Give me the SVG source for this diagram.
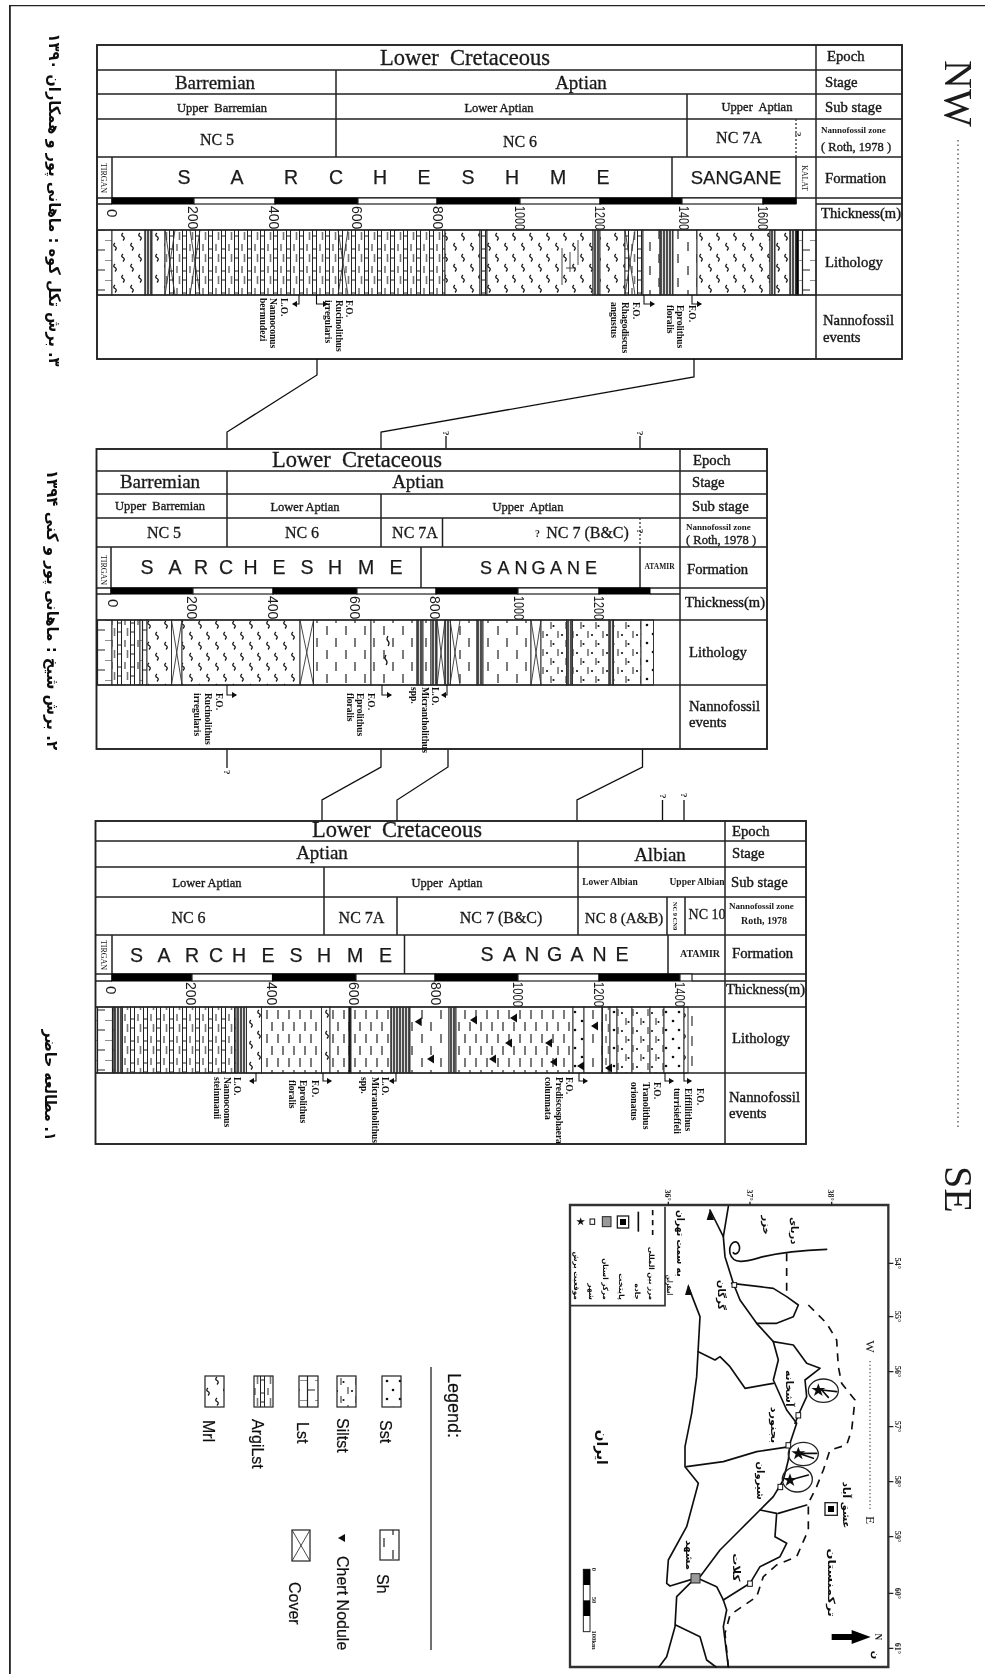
<svg xmlns="http://www.w3.org/2000/svg" xmlns:xlink="http://www.w3.org/1999/xlink" width="985" height="1674" viewBox="0 0 985 1674">
<style>
.t{font-family:"Liberation Serif","Times New Roman",serif;fill:#1a1a1a}
.s{font-family:"Liberation Sans",Arial,sans-serif;fill:#1a1a1a}
.p{font-family:"DejaVu Sans",sans-serif;fill:#111;font-weight:700}
.m{text-anchor:middle}
.e{font-family:"Liberation Serif",serif;font-weight:700;font-size:9.5px;fill:#111}
.h1{font-size:22.5px;stroke:#1a1a1a;stroke-width:.3}.h2{font-size:19px;stroke:#1a1a1a;stroke-width:.3}.h3{font-size:12.5px;stroke:#1a1a1a;stroke-width:.35}.h4{font-size:16px;stroke:#1a1a1a;stroke-width:.3}
.r{font-size:14.7px;stroke:#1a1a1a;stroke-width:.4}.rs{font-size:9px;font-weight:700}.rr{font-size:12.5px;stroke:#1a1a1a;stroke-width:.35}
.f{font-size:19.5px;text-anchor:middle;stroke:#1a1a1a;stroke-width:.25}
.n{font-size:14px}
.tn{font-size:8px;text-anchor:middle}
.l{fill:none;stroke:#222;stroke-width:1.5}
.b{fill:none;stroke:#222;stroke-width:1.9}
.st{stroke:#333;stroke-width:1}
.k{fill:#000;stroke:#000}
.w{fill:#fff;stroke:#222;stroke-width:1.2}
.c{fill:none;stroke:#111;stroke-width:1.3}
.ev{fill:none;stroke:#111;stroke-width:1.1;marker-end:url(#ah)}
.x{fill:none;stroke:#333;stroke-width:.9}
.mp{fill:none;stroke:#111;stroke-width:5;stroke-linejoin:round;stroke-linecap:round}
.md{fill:none;stroke:#111;stroke-width:5;stroke-dasharray:24 20}
.mq{fill:#fff;stroke:#111;stroke-width:3}
.ml{font-family:"DejaVu Sans",sans-serif;font-size:30px;font-weight:700;fill:#111;text-anchor:middle}
.mt{font-family:"Liberation Serif",serif;font-size:24px;font-weight:700;fill:#222;text-anchor:middle}
.lg{font-family:"Liberation Sans",Arial,sans-serif;font-size:16px;fill:#111;stroke:#111;stroke-width:.2}
</style>
<defs>
<filter id="soft" x="0" y="0" width="100%" height="100%"><feGaussianBlur stdDeviation="0.4"/></filter>
<marker id="ah" markerWidth="6" markerHeight="6" refX="4" refY="3" orient="auto"><path d="M0,0 L5,3 L0,6Z" fill="#111"/></marker>
<pattern id="lst" width="15" height="20" patternUnits="userSpaceOnUse"><rect width="15" height="20" fill="#fff"/><path d="M7.5,0V20M0,0H7.5M7.5,10H15" stroke="#222" stroke-width="1.2" fill="none"/></pattern>
<pattern id="mrl" width="17" height="21" patternUnits="userSpaceOnUse"><rect width="17" height="21" fill="#fff"/><path d="M4,2q-2.5,2 0,3.5t0,4M13,12q-2.5,2 0,3.5t0,4" stroke="#111" stroke-width="1.3" fill="none"/></pattern>
<pattern id="sh" width="19" height="24" patternUnits="userSpaceOnUse"><rect width="19" height="24" fill="#fff"/><path d="M4,2V11M13,14V23" stroke="#222" stroke-width="1.2" fill="none"/></pattern>
<pattern id="arg" width="13" height="22" patternUnits="userSpaceOnUse"><rect width="13" height="22" fill="#fff"/><path d="M.5,0V22M4.5,0V22M0,7H4.5M0,16H4.5" stroke="#222" stroke-width="1" fill="none"/><path d="M8,2V9M10.5,12V20" stroke="#777" stroke-width="1.6" fill="none"/></pattern>
<pattern id="slt" width="15" height="18" patternUnits="userSpaceOnUse"><rect width="15" height="18" fill="#fff"/><path d="M3,1V8M11,10V17" stroke="#333" stroke-width="1.1" fill="none"/><circle cx="7" cy="5" r="1.1" fill="#111"/><circle cx="13.5" cy="14" r="1.1" fill="#111"/></pattern>
<pattern id="sst" width="13" height="18" patternUnits="userSpaceOnUse"><rect width="13" height="18" fill="#fff"/><circle cx="3" cy="4" r="1.3" fill="#111"/><circle cx="10" cy="13" r="1.3" fill="#111"/></pattern>
<pattern id="dn" width="3" height="10" patternUnits="userSpaceOnUse"><rect width="3" height="10" fill="#ddd"/><path d="M1,0V10" stroke="#111" stroke-width="1.4"/></pattern>
<pattern id="shc" width="11" height="24" patternUnits="userSpaceOnUse"><rect width="11" height="24" fill="#fff"/><path d="M3,2V11M8,14V23" stroke="#222" stroke-width="1.2" fill="none"/></pattern>
<polygon id="chert" points="-4,0 3,-4.5 3,4.5" fill="#111"/>
</defs>
<rect width="985" height="1674" fill="#fff"/>
<g filter="url(#soft)">
<g id="frame"><path d="M9.5,1674V5H985" fill="none" stroke="#222" stroke-width="2.6"/></g>

<g id="captions">
<text class="p m" font-size="16" textLength="333" lengthAdjust="spacingAndGlyphs" x="49" y="200" transform="rotate(90 49 200)" direction="rtl">۳. برش تکل کوه : ماهانی پور و همکاران ۱۳۹۰</text>
<text class="p m" font-size="16" textLength="280" lengthAdjust="spacingAndGlyphs" x="47" y="610" transform="rotate(90 47 610)" direction="rtl">۲. برش شیخ : ماهانی پور و کنی ۱۳۹۴</text>
<text class="p m" font-size="16" textLength="111" lengthAdjust="spacingAndGlyphs" x="45" y="1085" transform="rotate(90 45 1085)" direction="rtl">۱. مطالعه حاضر</text>
</g>

<g id="section-line">
<text class="t" font-size="40" x="945" y="60" transform="rotate(90 945 60)">NW</text>
<path d="M958,140V1127" stroke="#666" stroke-width="1.5" stroke-dasharray="1.5 3" fill="none"/>
<text class="t" font-size="40" x="945" y="1166" transform="rotate(90 945 1166)">SE</text>
</g>

<g id="chart-1">
<g class="st">
<rect x="97" y="230" width="15" height="65" fill="url(#lst)"/><rect x="112" y="230" width="33" height="65" fill="url(#mrl)"/><rect x="145" y="230" width="7" height="65" fill="url(#dn)"/><rect x="152" y="230" width="13" height="65" fill="url(#mrl)"/><rect x="165" y="230" width="280" height="65" fill="url(#arg)"/><rect x="445" y="230" width="35" height="65" fill="url(#mrl)"/><rect x="480" y="230" width="7" height="65" fill="url(#arg)"/><rect x="487" y="230" width="106" height="65" fill="url(#mrl)"/><rect x="593" y="230" width="7" height="65" fill="url(#dn)"/><rect x="600" y="230" width="25" height="65" fill="url(#mrl)"/><rect x="625" y="230" width="18" height="65" fill="url(#arg)"/><rect x="643" y="230" width="17" height="65" fill="url(#sh)"/><rect x="660" y="230" width="13" height="65" fill="url(#dn)"/><rect x="673" y="230" width="24" height="65" fill="url(#sh)"/><rect x="697" y="230" width="73" height="65" fill="url(#mrl)"/><rect x="770" y="230" width="5" height="65" fill="url(#dn)"/><rect x="775" y="230" width="15" height="65" fill="url(#mrl)"/><rect x="790" y="230" width="6" height="65" fill="url(#dn)"/><rect x="796" y="230" width="2.5" height="65" fill="#000"/><rect x="798.5" y="230" width="17.5" height="65" fill="url(#lst)"/>
</g>
<path class="x" d="M165,230L175,295M175,230L165,295M190,230L200,295M200,230L190,295M338,230L348,295M348,230L338,295M625,230L635,295M635,230L625,295"/>
<path class="x" d="M562,248V285M570,252V272M578,240V265M566,268H576"/>
<rect class="b" x="97" y="45" width="805" height="314"/>
<path class="l" d="M97,70H902M97,94H902M97,119H902M97,157H902M97,198H902M97,204H112M816,204H902M97,230H902M97,295H902M816,45V359M336,70V157M687,94V157M112,157V204M672,157V198M796,157V204"/>
<path d="M796,119V157" stroke="#333" stroke-width="1.3" stroke-dasharray="2 2"/>
<rect class="k" x="112" y="198" width="82" height="6"/><rect class="w" x="194" y="198" width="81" height="6"/><rect class="k" x="275" y="198" width="83" height="6"/><rect class="w" x="358" y="198" width="79" height="6"/><rect class="k" x="437" y="198" width="83" height="6"/><rect class="w" x="520" y="198" width="80" height="6"/><rect class="k" x="600" y="198" width="82" height="6"/><rect class="w" x="682" y="198" width="81" height="6"/><rect class="k" x="763" y="198" width="33" height="6"/>
<text class="t m h1" x="465" y="65">Lower&#160; Cretaceous</text>
<text class="t m h2" x="215" y="89">Barremian</text><text class="t m h2" x="581" y="89">Aptian</text>
<text class="t m h3" x="222" y="112">Upper&#160; Barremian</text><text class="t m h3" x="499" y="112">Lower Aptian</text><text class="t m h3" x="757" y="111">Upper&#160; Aptian</text>
<text class="t m h4" x="217" y="145">NC 5</text><text class="t m h4" x="520" y="147">NC 6</text><text class="t m h4" x="739" y="143">NC 7A</text>
<text class="t" font-weight="700" font-size="9" x="795" y="132" transform="rotate(90 795 132)">?</text>
<text class="t r" x="827" y="61">Epoch</text><text class="t r" x="825" y="87">Stage</text><text class="t r" x="825" y="112">Sub stage</text>
<text class="t rs" x="821" y="133">Nannofossil zone</text><text class="t rr" x="821" y="151">( Roth, 1978 )</text>
<text class="t r" x="825" y="183">Formation</text><text class="t r" x="821" y="218" textLength="80" lengthAdjust="spacingAndGlyphs">Thickness(m)</text>
<text class="t r" x="825" y="267">Lithology</text><text class="t r" x="823" y="325">Nannofossil</text><text class="t r" x="823" y="342">events</text>
<text class="s f" x="184 237 291 336 380 424 468 512 558 603" y="184">SARCHESHME</text>
<text class="s m" font-size="18.5" stroke="#1a1a1a" stroke-width=".25" x="736" y="184">SANGANE</text>
<text class="t tn" x="101" y="178" transform="rotate(90 101 178)">TIRGAN</text>
<text class="t tn" x="802" y="178" transform="rotate(90 802 178)">KALAT</text>
<g class="s n">
<text font-size="15" x="107" y="209" transform="rotate(90 107 209)">0</text>
<text x="188" y="206" transform="rotate(90 188 206)">200</text><text x="269" y="206" transform="rotate(90 269 206)">400</text><text x="352" y="206" transform="rotate(90 352 206)">600</text><text x="433" y="206" transform="rotate(90 433 206)">800</text>
<text x="515" y="206" textLength="24" lengthAdjust="spacingAndGlyphs" transform="rotate(90 515 206)">1000</text><text x="595" y="206" textLength="24" lengthAdjust="spacingAndGlyphs" transform="rotate(90 595 206)">1200</text><text x="679" y="206" textLength="24" lengthAdjust="spacingAndGlyphs" transform="rotate(90 679 206)">1400</text><text x="758" y="206" textLength="24" lengthAdjust="spacingAndGlyphs" transform="rotate(90 758 206)">1600</text>
</g>
<path class="ev" d="M299,295V304H293"/><path class="ev" d="M316.5,295V304H327"/><path class="ev" d="M644,295V304H654"/><path class="ev" d="M692,295V304H701"/>
<g class="e">
<text x="281" y="298" transform="rotate(90 281 298)">L.O.</text><text x="270" y="298" transform="rotate(90 270 298)">Nannoconus</text><text x="260" y="298" transform="rotate(90 260 298)">bermudezi</text>
<text x="346" y="300" transform="rotate(90 346 300)">F.O.</text><text x="336" y="300" transform="rotate(90 336 300)">Rucinolithus</text><text x="325" y="300" transform="rotate(90 325 300)">irregularis</text>
<text x="633" y="302" transform="rotate(90 633 302)">F.O.</text><text x="622" y="302" transform="rotate(90 622 302)">Rhagodiscus</text><text x="611" y="302" transform="rotate(90 611 302)">angustus</text>
<text x="689" y="305" transform="rotate(90 689 305)">F.O.</text><text x="677" y="305" transform="rotate(90 677 305)">Eprolithus</text><text x="667" y="305" transform="rotate(90 667 305)">floralis</text>
</g>
</g>

<g id="connectors">
<path class="c" d="M317,359V375L227,432V449"/>
<path class="c" d="M694,359V377L381,432V449"/>
<path class="c" d="M446,436V449M640,436V449M227,749V768"/>
<path class="c" d="M381,749V767L322,800V821"/>
<path class="c" d="M448,749V767L397,800V821"/>
<path class="c" d="M642.5,749V767L577,800V821"/>
<path class="c" d="M662.5,800V821M684,800V821"/>
<g class="t" font-size="9" font-weight="700">
<text x="443" y="431" transform="rotate(90 443 431)">?</text><text x="637" y="431" transform="rotate(90 637 431)">?</text>
<text x="224" y="770" transform="rotate(90 224 770)">?</text><text x="660" y="794" transform="rotate(90 660 794)">?</text><text x="681" y="793" transform="rotate(90 681 793)">?</text>
</g>
</g>

<g id="chart-2">
<g class="st">
<rect x="96.5" y="620" width="15.5" height="65" fill="url(#lst)"/><rect x="112" y="620" width="28" height="65" fill="url(#arg)"/><rect x="140" y="620" width="7" height="65" fill="url(#lst)"/><rect x="147" y="620" width="24.5" height="65" fill="url(#mrl)"/><rect x="171.5" y="620" width="10.5" height="65" fill="#fff"/><rect x="182" y="620" width="118" height="65" fill="url(#mrl)"/><rect x="300" y="620" width="13.5" height="65" fill="#fff"/><rect x="313.5" y="620" width="57.5" height="65" fill="url(#sh)"/><rect x="371" y="620" width="46" height="65" fill="url(#sh)"/><rect x="417" y="620" width="6" height="65" fill="url(#dn)"/><rect x="423" y="620" width="8" height="65" fill="url(#shc)"/><rect x="431" y="620" width="6" height="65" fill="url(#dn)"/><rect x="437" y="620" width="8" height="65" fill="#fff"/><rect x="445" y="620" width="5.5" height="65" fill="url(#dn)"/><rect x="450.5" y="620" width="26.5" height="65" fill="url(#sh)"/><rect x="477" y="620" width="6" height="65" fill="url(#dn)"/><rect x="483" y="620" width="48" height="65" fill="url(#sh)"/><rect x="531" y="620" width="10" height="65" fill="#fff"/><rect x="541" y="620" width="25.5" height="65" fill="url(#slt)"/><rect x="566.5" y="620" width="6" height="65" fill="url(#dn)"/><rect x="572.5" y="620" width="36.5" height="65" fill="url(#slt)"/><rect x="609" y="620" width="4.5" height="65" fill="url(#dn)"/><rect x="613.5" y="620" width="27.5" height="65" fill="url(#slt)"/><rect x="641" y="620" width="12.5" height="65" fill="url(#sst)"/>
</g>
<path class="x" d="M171.5,620L182,685M182,620L171.5,685M300,620L313.5,685M313.5,620L300,685M531,620L541,685M541,620L531,685M450,620L460,685M460,620L450,685M437,620L445,685M445,620L437,685"/>
<path class="c" d="M388,636q-2,3 0,5t0,5M386,655q-2,3 0,5t0,5"/>
<rect class="b" x="96.5" y="449" width="670.5" height="300"/>
<path class="l" d="M96.5,471H767M96.5,494H767M96.5,518H767M96.5,547H767M96.5,588H767M96.5,594H111M650,594H680M96.5,620H767M96.5,685H767M680,449V749M227,471V547M381,494V547M442.5,518V547M111,547V594M421,547V588M640,547V588"/>
<path d="M640,518V547" stroke="#333" stroke-width="1.3" stroke-dasharray="2 2"/>
<rect class="k" x="111" y="588" width="82" height="6"/><rect class="w" x="193" y="588" width="80" height="6"/><rect class="k" x="273" y="588" width="84" height="6"/><rect class="w" x="357" y="588" width="79" height="6"/><rect class="k" x="436" y="588" width="82" height="6"/><rect class="w" x="518" y="588" width="81" height="6"/><rect class="k" x="599" y="588" width="51" height="6"/>
<text class="t m h1" x="357" y="467">Lower&#160; Cretaceous</text>
<text class="t m h2" x="160" y="488">Barremian</text><text class="t m h2" x="418" y="488">Aptian</text>
<text class="t m h3" x="160" y="510">Upper&#160; Barremian</text><text class="t m h3" x="305" y="511">Lower Aptian</text><text class="t m h3" x="528" y="511">Upper&#160; Aptian</text>
<text class="t m h4" x="164" y="538">NC 5</text><text class="t m h4" x="302" y="538">NC 6</text><text class="t m h4" x="415" y="538">NC 7A</text><text class="t m" font-size="10" font-weight="700" x="537.5" y="537">?</text><text class="t m h4" x="587.5" y="538">NC 7 (B&amp;C)</text>
<text class="t" font-size="9" font-weight="700" x="637" y="529" transform="rotate(90 637 529)">?</text>
<text class="t r" x="693" y="465">Epoch</text><text class="t r" x="692" y="487">Stage</text><text class="t r" x="692" y="511">Sub stage</text>
<text class="t rs" x="686" y="530" font-size="8.5">Nannofossil zone</text><text class="t rr" x="686" y="544">( Roth, 1978 )</text>
<text class="t r" x="687" y="574">Formation</text><text class="t r" x="685" y="607" textLength="80" lengthAdjust="spacingAndGlyphs">Thickness(m)</text>
<text class="t r" x="689" y="657">Lithology</text><text class="t r" x="689" y="711">Nannofossil</text><text class="t r" x="689" y="727">events</text>
<text class="s f" x="147 175 201 226 250.5 279 307 335 366 396" y="574">SARCHESHME</text>
<text class="s f" x="486 503.5 521 538.5 556 573.5 591" y="574" style="font-size:18px">SANGANE</text>
<text class="t m" font-size="7.5" font-weight="700" x="659.5" y="569">ATAMIR</text>
<text class="t tn" x="101" y="570" transform="rotate(90 101 570)">TIRGAN</text>
<g class="s n">
<text font-size="15" x="108" y="599" transform="rotate(90 108 599)">0</text>
<text x="187" y="596" transform="rotate(90 187 596)">200</text><text x="267.5" y="596" transform="rotate(90 267.5 596)">400</text><text x="350" y="596" transform="rotate(90 350 596)">600</text><text x="430" y="596" transform="rotate(90 430 596)">800</text>
<text x="514" y="596" textLength="24" lengthAdjust="spacingAndGlyphs" transform="rotate(90 514 596)">1000</text><text x="594" y="596" textLength="24" lengthAdjust="spacingAndGlyphs" transform="rotate(90 594 596)">1200</text>
</g>
<path class="ev" d="M227,685V695H236"/><path class="ev" d="M382,685V695H391"/><path class="ev" d="M447,685V695H442"/>
<g class="e">
<text x="216" y="693" transform="rotate(90 216 693)">F.O.</text><text x="205" y="693" transform="rotate(90 205 693)">Rucinolithus</text><text x="194" y="693" transform="rotate(90 194 693)">irregularis</text>
<text x="368" y="693" transform="rotate(90 368 693)">F.O.</text><text x="357" y="693" transform="rotate(90 357 693)">Eprolithus</text><text x="347" y="693" transform="rotate(90 347 693)">floralis</text>
<text x="432" y="687" transform="rotate(90 432 687)">L.O.</text><text x="422" y="687" transform="rotate(90 422 687)">Micrantholithus</text><text x="411" y="687" transform="rotate(90 411 687)">spp.</text>
</g>
</g>

<g id="chart-3">
<g class="st">
<rect x="95.5" y="1007" width="18.5" height="66" fill="url(#lst)"/><rect x="114" y="1007" width="8.5" height="66" fill="url(#dn)"/><rect x="122.5" y="1007" width="73" height="66" fill="url(#arg)"/><rect x="195.5" y="1007" width="40.5" height="66" fill="url(#arg)"/><rect x="236" y="1007" width="10.5" height="66" fill="url(#dn)"/><rect x="246.5" y="1007" width="15" height="66" fill="url(#mrl)"/><rect x="261.5" y="1007" width="60" height="66" fill="url(#shc)"/><rect x="321.5" y="1007" width="8.5" height="66" fill="url(#mrl)"/><rect x="330" y="1007" width="19" height="66" fill="url(#shc)"/><rect x="349" y="1007" width="2" height="66" fill="#000"/><rect x="351" y="1007" width="40" height="66" fill="url(#shc)"/><rect x="391" y="1007" width="19" height="66" fill="url(#dn)"/><rect x="410" y="1007" width="39" height="66" fill="url(#sh)"/><rect x="449" y="1007" width="7" height="66" fill="url(#dn)"/><rect x="456" y="1007" width="117" height="66" fill="url(#shc)"/><rect x="573" y="1007" width="11" height="66" fill="url(#sst)"/><rect x="584" y="1007" width="18" height="66" fill="url(#sh)"/><rect x="602" y="1007" width="8" height="66" fill="url(#arg)"/><rect x="610" y="1007" width="7" height="66" fill="url(#sst)"/><rect x="617" y="1007" width="15" height="66" fill="url(#slt)"/><rect x="632" y="1007" width="18" height="66" fill="url(#slt)"/><rect x="650" y="1007" width="14" height="66" fill="url(#slt)"/><rect x="664" y="1007" width="20" height="66" fill="url(#sst)"/><rect x="684" y="1007" width="4" height="66" fill="url(#mrl)"/>
</g>
<path d="M692,1016V1026M692,1036V1046M692,1056V1066" stroke="#333" stroke-width="1.2"/>
<g><use href="#chert" x="418.7" y="1021.7"/><use href="#chert" x="474" y="1020"/><use href="#chert" x="514" y="1018"/><use href="#chert" x="509" y="1043"/><use href="#chert" x="549" y="1043"/><use href="#chert" x="493" y="1059"/><use href="#chert" x="554" y="1062"/><use href="#chert" x="431" y="1059"/><use href="#chert" x="595" y="1026"/><use href="#chert" x="581" y="1066"/><use href="#chert" x="609" y="1068"/></g>
<rect class="b" x="95.5" y="821" width="710.5" height="323"/>
<path class="l" d="M95.5,841H806M95.5,867H806M95.5,897H806M95.5,935H806M95.5,974H806M95.5,981H112M692,981H806M95.5,1007H806M95.5,1073H806M725,821V1144M578,841V935M324,867V935M397,897V935M667,897V935M685,897V935M112,935V981M404.5,935V974M668,935V974"/>
<rect class="k" x="112" y="974" width="80" height="7"/><rect class="w" x="192" y="974" width="80.5" height="7"/><rect class="k" x="272.5" y="974" width="83.5" height="7"/><rect class="w" x="356" y="974" width="79" height="7"/><rect class="k" x="435" y="974" width="83" height="7"/><rect class="w" x="518" y="974" width="81" height="7"/><rect class="k" x="599" y="974" width="81" height="7"/><rect class="w" x="680" y="974" width="12" height="7"/>
<text class="t m h1" x="397" y="837">Lower&#160; Cretaceous</text>
<text class="t m h2" x="322" y="859">Aptian</text><text class="t m h2" x="660" y="861">Albian</text>
<text class="t m h3" x="207" y="887">Lower Aptian</text><text class="t m h3" x="447" y="887">Upper&#160; Aptian</text>
<text class="t m" font-size="9.5" font-weight="700" x="610" y="885">Lower Albian</text><text class="t m" font-size="9.5" font-weight="700" x="697" y="885">Upper Albian</text>
<text class="t m h4" x="188.5" y="923">NC 6</text><text class="t m h4" x="361.5" y="923">NC 7A</text><text class="t m h4" x="501" y="923">NC 7 (B&amp;C)</text><text class="t m h4" style="font-size:15px" x="624" y="923">NC 8 (A&amp;B)</text>
<text class="t m" font-size="6.5" font-weight="700" x="673" y="916" transform="rotate(90 673 916)">NC 9 CN9</text>
<text class="t m h4" style="font-size:14px" x="707" y="919">NC 10</text>
<text class="t r" x="732" y="836">Epoch</text><text class="t r" x="732" y="858">Stage</text><text class="t r" x="731" y="887">Sub stage</text>
<text class="t rs" x="729" y="909" font-size="8.5">Nannofossil zone</text><text class="t m" font-size="10" font-weight="700" x="764" y="924">Roth, 1978</text>
<text class="t r" x="732" y="958">Formation</text><text class="t r" x="726" y="994" textLength="79" lengthAdjust="spacingAndGlyphs">Thickness(m)</text>
<text class="t r" x="732" y="1043">Lithology</text><text class="t r" x="729" y="1102">Nannofossil</text><text class="t r" x="729" y="1118">events</text>
<text class="s f" x="136.5 164 192 216 239 268 296 324 355 385.5" y="962">SARCHESHME</text>
<text class="s f" x="487 509.5 532 554.5 577 599.5 622" y="961">SANGANE</text>
<text class="t m" font-size="10" font-weight="700" x="700" y="957">ATAMIR</text>
<text class="t tn" x="101" y="955" transform="rotate(90 101 955)">TIRGAN</text>
<g class="s n">
<text font-size="15" x="106" y="986" transform="rotate(90 106 986)">0</text>
<text x="186" y="982" transform="rotate(90 186 982)">200</text><text x="267" y="982" transform="rotate(90 267 982)">400</text><text x="349" y="982" transform="rotate(90 349 982)">600</text><text x="431" y="982" transform="rotate(90 431 982)">800</text>
<text x="512.5" y="982" textLength="25" lengthAdjust="spacingAndGlyphs" transform="rotate(90 512.5 982)">1000</text><text x="594" y="982" textLength="25" lengthAdjust="spacingAndGlyphs" transform="rotate(90 594 982)">1200</text><text x="675" y="982" textLength="25" lengthAdjust="spacingAndGlyphs" transform="rotate(90 675 982)">1400</text>
</g>
<path class="ev" d="M256,1073V1081H250"/><path class="ev" d="M323,1073V1081H331"/><path class="ev" d="M396,1073V1081H390"/><path class="ev" d="M579,1073V1081H587"/><path class="ev" d="M665,1073V1081H673"/><path class="ev" d="M684,1073V1081H691"/>
<g class="e">
<text x="234" y="1077" transform="rotate(90 234 1077)">L.O.</text><text x="224" y="1077" transform="rotate(90 224 1077)">Nannoconus</text><text x="214" y="1077" transform="rotate(90 214 1077)">steinmanii</text>
<text x="312" y="1080" transform="rotate(90 312 1080)">F.O.</text><text x="300" y="1080" transform="rotate(90 300 1080)">Eprolithus</text><text x="289" y="1080" transform="rotate(90 289 1080)">floralis</text>
<text x="382" y="1077" transform="rotate(90 382 1077)">L.O.</text><text x="372" y="1077" transform="rotate(90 372 1077)">Micrantholithus</text><text x="361" y="1077" transform="rotate(90 361 1077)">spp.</text>
<text x="566" y="1077" transform="rotate(90 566 1077)">F.O.</text><text x="556" y="1077" transform="rotate(90 556 1077)">Prediscosphaera</text><text x="545" y="1077" transform="rotate(90 545 1077)">columnata</text>
<text x="654" y="1082" transform="rotate(90 654 1082)">F.O.</text><text x="643" y="1082" transform="rotate(90 643 1082)">Tranolithus</text><text x="631" y="1082" transform="rotate(90 631 1082)">orionatus</text>
<text x="697" y="1088" transform="rotate(90 697 1088)">F.O.</text><text x="685" y="1088" transform="rotate(90 685 1088)">Eiffillithus</text><text x="674" y="1088" transform="rotate(90 674 1088)">turrisieffeli</text>
</g>
</g>

<g id="legend">
<text class="lg" style="font-size:18px" x="448" y="1373" transform="rotate(90 448 1373)">Legend:</text>
<path d="M431,1367V1650" stroke="#333" stroke-width="1.4"/>
<rect class="w" x="382" y="1376" width="19" height="31" style="fill:url(#sst)"/><text class="lg" x="380" y="1420" transform="rotate(90 380 1420)">Sst</text>
<rect class="w" x="337" y="1376" width="19" height="31" style="fill:url(#slt)"/><text class="lg" x="336.5" y="1418" transform="rotate(90 336.5 1418)">Siltst</text>
<rect class="w" x="299" y="1376" width="19" height="31" style="fill:url(#lst)"/><text class="lg" x="297" y="1422" transform="rotate(90 297 1422)">Lst</text>
<rect class="w" x="254" y="1376" width="19" height="31" style="fill:url(#arg)"/><text class="lg" x="251.5" y="1419" transform="rotate(90 251.5 1419)">ArgiLst</text>
<rect class="w" x="205" y="1376" width="19" height="31" style="fill:url(#mrl)"/><text class="lg" x="203" y="1420" transform="rotate(90 203 1420)">Mrl</text>
<rect class="w" x="380" y="1530" width="19" height="30" style="fill:url(#sh)"/><text class="lg" x="377" y="1574" transform="rotate(90 377 1574)">Sh</text>
<polygon points="338,1538 345,1534 345,1542" fill="#111"/><text class="lg" x="337" y="1556" transform="rotate(90 337 1556)">Chert Nodule</text>
<rect class="w" x="292" y="1530" width="18" height="31"/><path class="x" d="M292,1530L310,1561M310,1530L292,1561"/><text class="lg" x="289" y="1582" transform="rotate(90 289 1582)">Cover</text>
</g>

<g id="map" transform="translate(560 1160) scale(.33333)">
<path d="M30,135H985V1521H30Z" fill="#fff" stroke="#333" stroke-width="7"/>
<path d="M30,437H315V140" fill="none" stroke="#333" stroke-width="5"/>
<path class="mp" d="M800,268C740,270 660,278 610,290C570,300 520,320 510,280C505,250 530,232 538,258C542,280 525,285 520,278"/>
<path class="mp" d="M505,140L490,230L495,290L520,370L540,420L590,490L640,545L655,600L640,660L680,750L710,790L690,850L685,900L670,960L640,1010L600,1050L540,1110L480,1170L420,1250"/>
<path class="mp" d="M450,150L490,230M405,1255L330,1278L320,1270L325,1200L380,1100L415,970L375,920L375,860L395,760L410,650L420,470L385,380"/>
<path class="mp" d="M420,1258L470,1280L490,1320L500,1350L490,1400L505,1521M395,1265L350,1310L345,1400L320,1490L297,1521M347,1395L420,1430L440,1500L468,1521"/>
<path class="mp" d="M490,1320L570,1270L600,1220L660,1190L680,1150L645,1130L650,1060L600,1050M655,1060L740,1035"/>
<path class="mp" d="M515,370L640,385L680,410L715,435L700,470L650,490L590,490M640,545L700,555L740,610L780,625L735,660L740,710L715,765L705,790M640,670L555,685L510,620L480,590L465,600L415,575M690,860L590,875L490,905L380,920"/>
<path class="md" d="M680,280L680,400M745,435L800,490L830,540L835,620L845,670L885,720L875,810L860,855L810,870L790,930L770,980L745,1030L745,1110L710,1190L650,1215L610,1250L590,1310L510,1365L495,1420L505,1521"/>
<polygon points="450,148 462,180 440,180" fill="#111"/><polygon points="385,372 397,405 375,405" fill="#111"/>
<ellipse cx="790" cy="692" rx="45" ry="35" fill="none" stroke="#222" stroke-width="4"/><ellipse cx="730" cy="882" rx="45" ry="35" fill="none" stroke="#222" stroke-width="4"/><ellipse cx="712" cy="958" rx="45" ry="38" fill="none" stroke="#222" stroke-width="4"/>
<path class="mp" d="M830,695L785,690L805,712M770,880L715,880L760,895M745,945L690,960"/>
<g fill="#111"><polygon points="775,670 780,684 796,684 783,693 788,708 775,699 762,708 767,693 754,684 770,684"/><polygon points="715,860 720,874 736,874 723,883 728,898 715,889 702,898 707,883 694,874 710,874"/><polygon points="690,940 695,954 711,954 698,963 703,978 690,969 677,978 682,963 669,954 685,954"/></g>
<rect class="mq" x="516" y="368" width="14" height="14"/><rect class="mq" x="708" y="758" width="14" height="16"/><rect class="mq" x="678" y="848" width="14" height="16"/><rect class="mq" x="654" y="973" width="14" height="16"/><rect class="mq" x="563" y="1263" width="14" height="16"/>
<rect x="393" y="1241" width="27" height="28" fill="#999" stroke="#222" stroke-width="3"/>
<rect x="795" y="1028" width="37" height="38" fill="#fff" stroke="#222" stroke-width="4"/><rect x="804" y="1038" width="18" height="18" fill="#000"/>
<path d="M930,603V1050" stroke="#666" stroke-width="4" stroke-dasharray="4 7" fill="none"/>
<text class="t" font-size="40" text-anchor="middle" x="918" y="560" transform="rotate(90 918 560)">W</text>
<text class="t" font-size="40" text-anchor="middle" x="918" y="1080" transform="rotate(90 918 1080)">E</text>
<polygon points="815,1422 875,1422 875,1410 932,1431 875,1452 875,1440 815,1440" fill="#000"/>
<text class="mt" x="945" y="1431" transform="rotate(90 945 1431)" style="font-size:28px">N</text>
<text class="ml" x="935" y="1485" transform="rotate(90 935 1485)">ن</text>
<g class="mt">
<text x="805" y="105" transform="rotate(90 805 105)">38°</text><text x="560" y="105" transform="rotate(90 560 105)">37°</text><text x="316" y="105" transform="rotate(90 316 105)">36°</text>
<text x="1005" y="310" transform="rotate(90 1005 310)">54°</text><text x="1005" y="470" transform="rotate(90 1005 470)">55°</text><text x="1005" y="635" transform="rotate(90 1005 635)">56°</text><text x="1005" y="800" transform="rotate(90 1005 800)">57°</text><text x="1005" y="965" transform="rotate(90 1005 965)">58°</text><text x="1005" y="1130" transform="rotate(90 1005 1130)">59°</text><text x="1005" y="1300" transform="rotate(90 1005 1300)">60°</text><text x="1005" y="1465" transform="rotate(90 1005 1465)">61°</text>
</g>
<path d="M985,310H1000M985,470H1000M985,635H1000M985,800H1000M985,965H1000M985,1130H1000M985,1300H1000M985,1465H1000M815,125V135M570,125V135M325,125V135" stroke="#222" stroke-width="4"/>
<g class="ml">
<text x="693" y="212" transform="rotate(90 693 212)" direction="rtl">دریای</text><text x="610" y="195" transform="rotate(90 610 195)" direction="rtl">خزر</text>
<text x="352" y="250" transform="rotate(90 352 250)" direction="rtl" textLength="200" lengthAdjust="spacingAndGlyphs">به سمت تهران</text>
<text x="473" y="405" transform="rotate(90 473 405)" direction="rtl">گرگان</text>
<text x="322" y="375" transform="rotate(90 322 375)" direction="rtl" style="font-size:24px" textLength="60" lengthAdjust="spacingAndGlyphs">اسفراین</text>
<text x="678" y="685" transform="rotate(90 678 685)" direction="rtl" textLength="110" lengthAdjust="spacingAndGlyphs">آشخانه</text>
<text x="632" y="795" transform="rotate(90 632 795)" direction="rtl" textLength="110" lengthAdjust="spacingAndGlyphs">بجنورد</text>
<text x="592" y="962" transform="rotate(90 592 962)" direction="rtl" textLength="115" lengthAdjust="spacingAndGlyphs">شیروان</text>
<text x="850" y="1035" transform="rotate(90 850 1035)" direction="rtl" textLength="140" lengthAdjust="spacingAndGlyphs">عشق آباد</text>
<text x="805" y="1268" transform="rotate(90 805 1268)" direction="rtl" textLength="205" lengthAdjust="spacingAndGlyphs">ترکمنستان</text>
<text x="110" y="862" transform="rotate(90 110 862)" direction="rtl" style="font-size:44px" textLength="105" lengthAdjust="spacingAndGlyphs">ایران</text>
<text x="378" y="1185" transform="rotate(90 378 1185)" direction="rtl" textLength="90" lengthAdjust="spacingAndGlyphs">مشهد</text>
<text x="518" y="1222" transform="rotate(90 518 1222)" direction="rtl" textLength="85" lengthAdjust="spacingAndGlyphs">کلات</text>
</g>
<g class="ml" style="font-size:22px">
<text x="267" y="340" transform="rotate(90 267 340)" direction="rtl" textLength="160" lengthAdjust="spacingAndGlyphs">مرز بین المللی</text>
<text x="225" y="395" transform="rotate(90 225 395)" direction="rtl">جاده</text>
<text x="178" y="380" transform="rotate(90 178 380)" direction="rtl" textLength="80" lengthAdjust="spacingAndGlyphs">پایتخت</text>
<text x="128" y="357" transform="rotate(90 128 357)" direction="rtl" textLength="125" lengthAdjust="spacingAndGlyphs">مرکز استان</text>
<text x="87" y="395" transform="rotate(90 87 395)" direction="rtl">شهر</text>
<text x="43" y="347" transform="rotate(90 43 347)" direction="rtl" textLength="145" lengthAdjust="spacingAndGlyphs">موقعیت برش</text>
</g>
<path d="M278,150V225" stroke="#111" stroke-width="5" stroke-dasharray="16 14"/><path d="M235,155V215" stroke="#111" stroke-width="5"/>
<rect x="172" y="168" width="34" height="36" fill="#fff" stroke="#222" stroke-width="4"/><rect x="180" y="177" width="18" height="18" fill="#000"/>
<rect x="127" y="170" width="26" height="30" fill="#999" stroke="#222" stroke-width="3"/>
<rect class="mq" x="90" y="177" width="14" height="16"/>
<polygon points="62,172 65,181 75,181 67,187 70,196 62,190 54,196 57,187 49,181 59,181" fill="#111"/>
<rect x="70" y="1228" width="20" height="187" fill="#fff" stroke="#222" stroke-width="3"/><rect x="70" y="1228" width="20" height="47" fill="#000"/><rect x="70" y="1321" width="20" height="47" fill="#000"/>
<g class="mt" style="font-size:20px"><text x="95" y="1228" transform="rotate(90 95 1228)">0</text><text x="95" y="1320" transform="rotate(90 95 1320)">50</text><text x="95" y="1440" transform="rotate(90 95 1440)">100km</text></g>
</g>
</g>
</svg>
